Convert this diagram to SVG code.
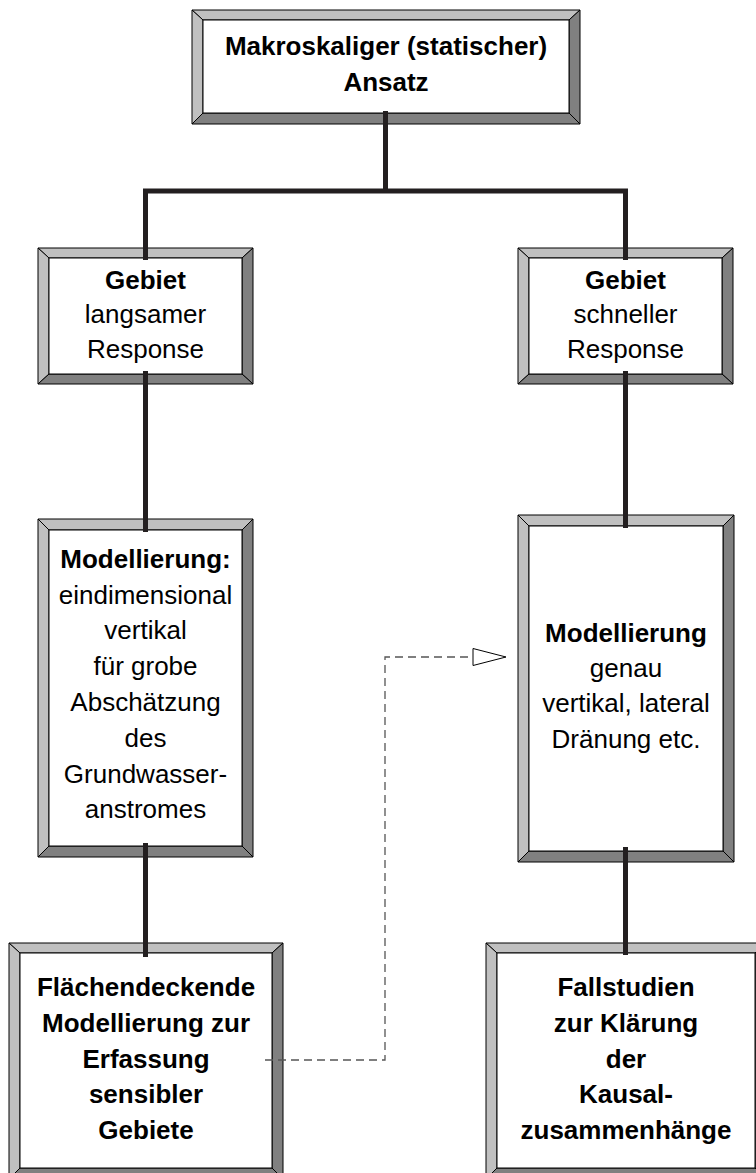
<svg xmlns="http://www.w3.org/2000/svg" width="756" height="1173" viewBox="0 0 756 1173">
<style>
.lt{fill:#c0c0c0;stroke:#000;stroke-width:1;stroke-linejoin:miter}
.dk{fill:#808080;stroke:#000;stroke-width:1;stroke-linejoin:miter}
.in{fill:#fff;stroke:#000;stroke-width:1}
text{font-family:"Liberation Sans",Arial,sans-serif;font-size:26px;fill:#000;text-anchor:middle}
.b{font-weight:bold}
.con{stroke:#231f20;stroke-width:5;fill:none}
.dash{stroke:#555;stroke-width:1.3;fill:none;stroke-dasharray:8 5}
</style>
<rect width="756" height="1173" fill="#fff"/>
<g id="n1">
<polygon class="lt" points="192,10 580,10 569,20 203,20"/>
<polygon class="lt" points="192,10 203,20 203,113 192,124"/>
<polygon class="dk" points="580,10 580,124 569,113 569,20"/>
<polygon class="dk" points="192,124 580,124 569,113 203,113"/>
<rect class="in" x="203" y="20" width="366" height="93"/>
<text class="b" x="386" y="55">Makroskaliger (statischer)</text>
<text class="b" x="386" y="91">Ansatz</text>
</g>
<g id="n2">
<polygon class="lt" points="38,248 253,248 242,258 49,258"/>
<polygon class="lt" points="38,248 49,258 49,374 38,384"/>
<polygon class="dk" points="253,248 253,384 242,374 242,258"/>
<polygon class="dk" points="38,384 253,384 242,374 49,374"/>
<rect class="in" x="49" y="258" width="193" height="116"/>
<text class="b" x="145.5" y="289">Gebiet</text>
<text x="145.5" y="323">langsamer</text>
<text x="145.5" y="358">Response</text>
</g>
<g id="n3">
<polygon class="lt" points="518,248 733,248 722,258 529,258"/>
<polygon class="lt" points="518,248 529,258 529,374 518,384"/>
<polygon class="dk" points="733,248 733,384 722,374 722,258"/>
<polygon class="dk" points="518,384 733,384 722,374 529,374"/>
<rect class="in" x="529" y="258" width="193" height="116"/>
<text class="b" x="625.5" y="289">Gebiet</text>
<text x="625.5" y="323">schneller</text>
<text x="625.5" y="358">Response</text>
</g>
<g id="n4">
<polygon class="lt" points="38,519 253,519 242,530 49,530"/>
<polygon class="lt" points="38,519 49,530 49,846 38,857"/>
<polygon class="dk" points="253,519 253,857 242,846 242,530"/>
<polygon class="dk" points="38,857 253,857 242,846 49,846"/>
<rect class="in" x="49" y="530" width="193" height="316"/>
<text class="b" x="145.5" y="568">Modellierung:</text>
<text x="145.5" y="604">eindimensional</text>
<text x="145.5" y="639">vertikal</text>
<text x="145.5" y="675">für grobe</text>
<text x="145.5" y="711">Abschätzung</text>
<text x="145.5" y="747">des</text>
<text x="145.5" y="783">Grundwasser-</text>
<text x="145.5" y="818">anstromes</text>
</g>
<g id="n5">
<polygon class="lt" points="518,515 734,515 723,526 529,526"/>
<polygon class="lt" points="518,515 529,526 529,851 518,862"/>
<polygon class="dk" points="734,515 734,862 723,851 723,526"/>
<polygon class="dk" points="518,862 734,862 723,851 529,851"/>
<rect class="in" x="529" y="526" width="194" height="325"/>
<text class="b" x="626" y="642">Modellierung</text>
<text x="626" y="677">genau</text>
<text x="626" y="712">vertikal, lateral</text>
<text x="626" y="748">Dränung etc.</text>
</g>
<g id="n6">
<polygon class="lt" points="9,943 283,943 272,953 20,953"/>
<polygon class="lt" points="9,943 20,953 20,1168 9,1179"/>
<polygon class="dk" points="283,943 283,1179 272,1168 272,953"/>
<polygon class="dk" points="9,1179 283,1179 272,1168 20,1168"/>
<rect class="in" x="20" y="953" width="252" height="215"/>
<text class="b" x="146" y="996">Flächendeckende</text>
<text class="b" x="146" y="1032">Modellierung zur</text>
<text class="b" x="146" y="1068">Erfassung</text>
<text class="b" x="146" y="1103">sensibler</text>
<text class="b" x="146" y="1139">Gebiete</text>
</g>
<g id="n7">
<polygon class="lt" points="486,943 766,943 755,953 497,953"/>
<polygon class="lt" points="486,943 497,953 497,1168 486,1179"/>
<polygon class="dk" points="766,943 766,1179 755,1168 755,953"/>
<polygon class="dk" points="486,1179 766,1179 755,1168 497,1168"/>
<rect class="in" x="497" y="953" width="258" height="215"/>
<text class="b" x="626" y="996">Fallstudien</text>
<text class="b" x="626" y="1032">zur Klärung</text>
<text class="b" x="626" y="1068">der</text>
<text class="b" x="626" y="1103">Kausal-</text>
<text class="b" x="626" y="1139">zusammenhänge</text>
</g>
<g id="connectors">
<line class="con" x1="385.5" y1="111" x2="385.5" y2="191"/>
<line class="con" x1="143" y1="191" x2="628" y2="191"/>
<line class="con" x1="145.5" y1="191" x2="145.5" y2="260"/>
<line class="con" x1="625.5" y1="191" x2="625.5" y2="260"/>
<line class="con" x1="145.5" y1="371" x2="145.5" y2="532"/>
<line class="con" x1="625.5" y1="371" x2="625.5" y2="528"/>
<line class="con" x1="145.5" y1="843" x2="145.5" y2="957"/>
<line class="con" x1="625.5" y1="847" x2="625.5" y2="955"/>
<path class="dash" d="M265,1060 H385 V657 H473"/>
<polygon points="473,648.5 506,657 473,665.5" fill="#fff" stroke="#000" stroke-width="1"/>
</g>
</svg>
